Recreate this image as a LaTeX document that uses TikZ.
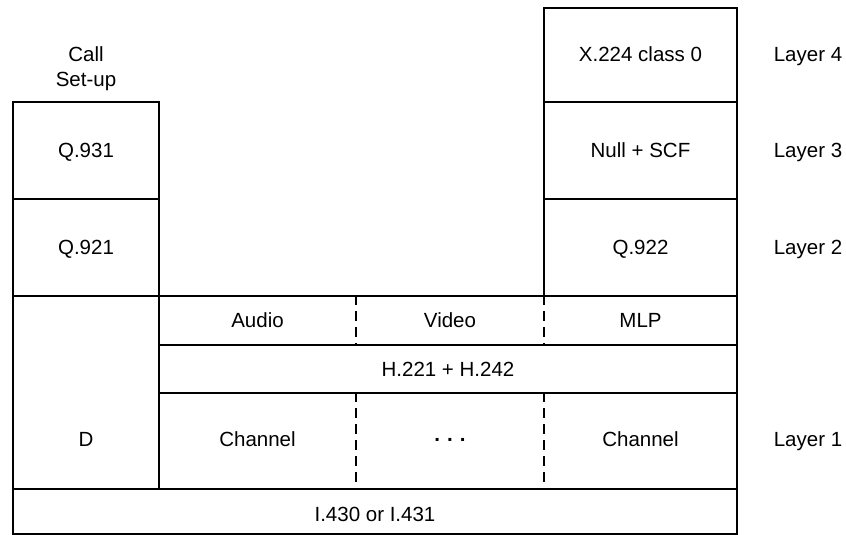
\documentclass[tikz,border=0pt]{standalone}
\usepackage{fontspec}
\setmainfont{Liberation Sans}
\begin{document}
\begin{tikzpicture}[x=1pt,y=-1pt,
  txt/.style={font=\fontsize{20.5}{24}\selectfont,inner sep=0pt,anchor=base},
  box/.style={draw,line width=2pt,inner sep=0pt},
  divider/.style={line width=2pt,dash pattern=on 10pt off 6pt}]
\useasboundingbox (0,0) rectangle (846,535);
% left column
\node[box,minimum width=146pt,minimum height=97pt] (q931) at (86,150.5) {};
\node[box,minimum width=146pt,minimum height=97pt] (q921) at (86,247.5) {};
\node[box,minimum width=146pt,minimum height=193pt] (dbox) at (86,392.5) {};
% right column
\node[box,minimum width=193pt,minimum height=94pt] (x224) at (640.5,55) {};
\node[box,minimum width=193pt,minimum height=97pt] (null) at (640.5,150.5) {};
\node[box,minimum width=193pt,minimum height=97pt] (q922) at (640.5,247.5) {};
% rows
\node[box,minimum width=578pt,minimum height=49pt] (rowa) at (448,320.5) {};
\node[box,minimum width=578pt,minimum height=48pt] (rowh) at (448,369) {};
\node[box,minimum width=578pt,minimum height=96pt] (rowc) at (448,441) {};
\node[box,minimum width=724pt,minimum height=45pt] (isdn) at (375,511.5) {};
% dividers
\coordinate (d1) at (356,0);
\coordinate (d2) at (544,0);
\draw[divider] (rowa.north -| d1) -- (rowa.south -| d1);
\draw[divider] (rowa.north -| d2) -- (rowa.south -| d2);
\draw[divider] (rowc.north -| d1) -- (rowc.south -| d1);
\draw[divider] (rowc.north -| d2) -- (rowc.south -| d2);
% texts
\node[txt] (call) at (86,62) {Call};
\node[txt] (setup) at (86,87) {Set-up};
\node[txt] (tq931) at (86,157.8) {Q.931};
\node[txt] (tq921) at (86,254.8) {Q.921};
\node[txt] (d) at (86,446.7) {D};
\node[txt] (tx224) at (640.5,61.7) {X.224 class 0};
\node[txt] (tnull) at (640.5,157.8) {Null + SCF};
\node[txt] (tq922) at (640.5,254.8) {Q.922};
\node[txt] (audio) at (257.5,327.8) {Audio};
\node[txt] (video) at (450,327.8) {Video};
\node[txt] (mlp) at (640.5,327.8) {MLP};
\node[txt] (th221) at (448,376.3) {H.221 + H.242};
\node[txt] (ch1) at (257.5,446.7) {Channel};
\node[txt] (dots) at (450,446.7) {\raisebox{5pt}{\textbf{.}}\hspace{0.34em}\raisebox{5pt}{\textbf{.}}\hspace{0.34em}\raisebox{5pt}{\textbf{.}}};
\node[txt] (ch2) at (640.5,446.7) {Channel};
\node[txt] (tisdn) at (375,521.7) {I.430 or I.431};
% layer labels
\node[txt] (l4) at (808,61.7) {Layer 4};
\node[txt] (l3) at (808,157.8) {Layer 3};
\node[txt] (l2) at (808,254.8) {Layer 2};
\node[txt] (l1) at (808,446.7) {Layer 1};
\end{tikzpicture}
\end{document}
